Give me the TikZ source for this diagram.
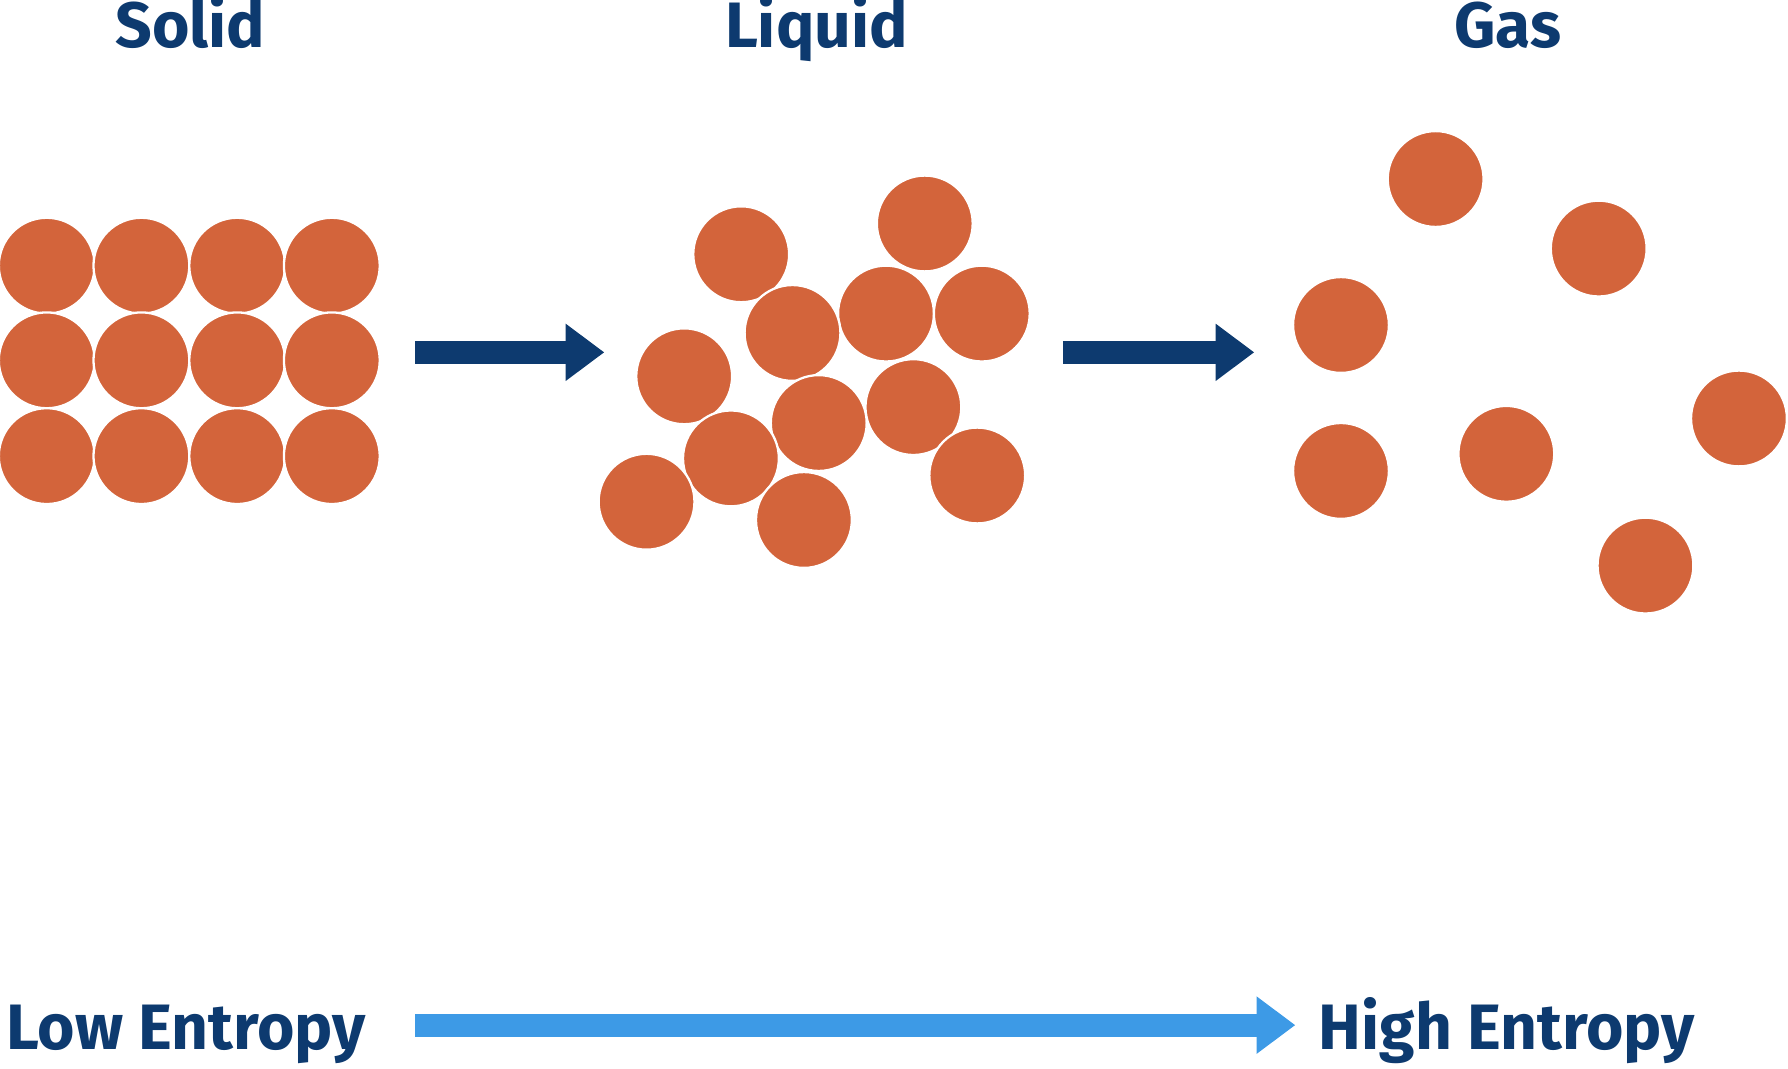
\documentclass[tikz,border=0pt]{standalone}
\usepackage{fontspec}
\setmainfont{Fira Sans}
\usetikzlibrary{arrows.meta}
\definecolor{dot}{HTML}{D3643B}
\definecolor{navy}{HTML}{0D3A6F}
\definecolor{sky}{HTML}{3D9AE6}
\begin{document}
\begin{tikzpicture}[x=0.01cm,y=-0.01cm,
  mol/.style={circle,fill=dot,draw=white,line width=0.02cm,minimum size=0.84cm,inner sep=0pt},
  lab/.style={text=navy,font=\fontsize{16}{18}\selectfont\bfseries},
  big/.style={line width=0.2cm,-{Triangle[length=0.34cm,width=0.48cm]}}]
\useasboundingbox (0,0) rectangle (1568,937);
\foreach \x [count=\i] in {41,124,208,291}
  \foreach \y [count=\j] in {233,316,400}
    \node[mol] (s\i\j) at (\x,\y) {};
\foreach \x/\y [count=\i] in {650/223,811/196,777/275,861/275,695/292,600/330,801/357,718/371,641/402,857/417,567/440,705/456}
  \node[mol] (l\i) at (\x,\y) {};
\foreach \x/\y [count=\i] in {1259/157,1402/218,1176/285,1176/413,1321/398,1525/367,1443/496}
  \node[mol] (g\i) at (\x,\y) {};
\node[lab,anchor=base] (t1) at (167,42) {Solid};
\node[lab,anchor=base] (t2) at (716,42) {Liquid};
\node[lab,anchor=base] (t3) at (1322,42) {Gas};
\node[lab,anchor=base west,inner sep=0pt] (lo) at (5,920) {Low Entropy};
\node[lab,anchor=base west,inner sep=0pt] (hi) at (1156,920) {High Entropy};
\coordinate (a1) at (364,309); \coordinate (a2) at (530,309);
\coordinate (b1) at (932,309); \coordinate (b2) at (1100,309);
\coordinate (c1) at (364,899); \coordinate (c2) at (1136,899);
\draw[big,navy] (a1) -- (a2);
\draw[big,navy] (b1) -- (b2);
\draw[big,sky] (c1) -- (c2);
\end{tikzpicture}
\end{document}
